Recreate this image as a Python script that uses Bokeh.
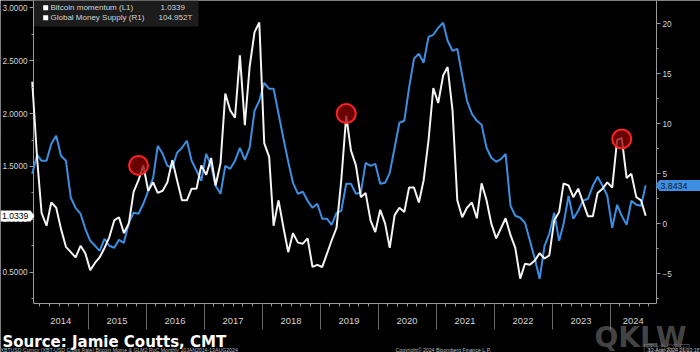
import datetime
from bokeh.plotting import figure
from bokeh.models import (Range1d, LinearAxis, FixedTicker, NumeralTickFormatter,
                          CustomJSTickFormatter, Label, PolyAnnotation, BoxAnnotation)
from bokeh.embed import file_html
from bokeh.resources import INLINE

# ---------------- data (monthly, Jan 2014 .. Aug 2024) ----------------
first_year, first_month = 2014, 1
obs_day = 15
last_obs = (2024, 8, 13)

btc_momentum = [
    2.30, 1.57, 1.06, 0.94, 1.16, 1.11, 0.91, 0.74, 0.69, 0.64, 0.75, 0.68,
    0.52, 0.59, 0.64, 0.73, 0.83, 0.99, 1.02, 0.87, 0.96, 1.26, 1.37, 1.51,
    1.27, 1.35, 1.25, 1.27, 1.35, 1.56, 1.37, 1.18, 1.18, 1.29, 1.29, 1.51,
    1.42, 1.58, 1.32, 1.53, 2.19, 2.03, 1.96, 2.55, 1.89, 2.44, 2.77, 2.86,
    1.72, 1.59, 0.94, 1.18, 0.93, 0.69, 0.87, 0.78, 0.77, 0.82, 0.55, 0.57,
    0.55, 0.68, 0.80, 0.92, 1.37, 1.98, 1.65, 1.51, 1.21, 1.25, 0.99, 0.88,
    1.09, 0.96, 0.73, 1.04, 1.11, 1.07, 1.30, 1.30, 1.16, 1.37, 1.75, 2.24,
    2.10, 2.36, 2.44, 2.03, 1.18, 1.02, 1.11, 1.16, 1.01, 1.34, 1.18, 0.96,
    0.82, 0.92, 1.01, 0.85, 0.73, 0.44, 0.58, 0.57, 0.61, 0.68, 0.63, 0.66,
    0.99, 1.07, 1.34, 1.32, 1.21, 1.29, 1.16, 1.03, 1.03, 1.25, 1.29, 1.35,
    1.30, 1.75, 1.77, 1.39, 1.43, 1.21, 1.18, 1.0339,
]

money_supply = [
    5.0, 6.9, 6.3, 6.3, 8.0, 8.8, 6.8, 6.3, 2.6, 1.6, 1.0, -0.5,
    -1.7, -2.2, -2.7, -1.5, -2.2, -2.4, -1.6, -1.9, 0.1, 1.1, 1.0, 2.0,
    3.3, 4.6, 7.8, 7.0, 5.8, 5.6, 7.1, 7.6, 8.3, 6.3, 5.3, 4.3,
    7.0, 5.8, 3.8, 3.0, 5.8, 5.5, 6.3, 7.6, 6.4, 7.6, 11.3, 12.3,
    14.1, 13.5, 13.5, 11.0, 8.6, 6.2, 4.1, 3.0, 3.2, 2.3, 1.6, 2.0,
    0.5, 0.5, -0.1, 1.1, 1.3, 4.0, 4.0, 3.0, 3.1, 6.1, 5.8, 6.0,
    4.0, 4.1, 5.1, 7.6, 10.1, 10.3, 13.6, 16.5, 17.0, 16.1, 18.7, 18.9,
    19.6, 20.1, 18.3, 17.3, 17.5, 14.8, 12.3, 11.0, 10.3, 9.9, 7.6, 6.6,
    6.2, 6.5, 7.0, 1.8, 0.8, 0.6, 0.1, -1.7, -3.5, -5.5, -2.2, -1.0,
    1.1, -1.7, 0.0, 2.8, 0.5, 1.3, 2.3, 2.5, 3.8, 4.7, 3.8, 2.8,
    -0.4, 1.9, 0.8, -0.1, 2.3, 1.9, 1.8, 3.8434,
]

highlight_months = ["2015-11", "2019-06", "2024-03"]
highlight_values = [1.51, 2.00, 1.76]

year_labels = ["2014", "2015", "2016", "2017", "2018", "2019",
               "2020", "2021", "2022", "2023", "2024"]

legend_rows = [("Bitcoin momentum (L1)", "1.0339"),
               ("Global Money Supply  (R1)", "104.952T")]
last_left_label = "1.0339"
last_right_label = "3.8434"

source_text = "Source: Jamie Coutts, CMT"
footer_left = "XBTUSD Curncy (XBT-USD Cross Rate) Bitcoin Mome & GLM2 RoC  Monthly 10JAN2014-13AUG2024"
footer_mid = "Copyright\u00a9 2024 Bloomberg Finance L.P."
footer_right = "13-Aug-2024 21:13:18"


# ---------------- helpers ----------------
def frac_year(d):
    start = datetime.date(d.year, 1, 1)
    n = (datetime.date(d.year + 1, 1, 1) - start).days
    return d.year + (d - start).days / n


dates = []
for k in range(len(btc_momentum)):
    idx = first_month - 1 + k
    dates.append(datetime.date(first_year + idx // 12, idx % 12 + 1, obs_day))
dates[-1] = datetime.date(*last_obs)
t = [frac_year(d) for d in dates]

hx = [frac_year(datetime.date(int(s[:4]), int(s[5:]), obs_day)) for s in highlight_months]


# pixel -> data layout helpers (plot area: x 33..656, y 0..303 of a 700x352 canvas)
def tx(px):
    return 2015 + (px - 87.5) / 58.0


def vy(py):
    return 1.0 + (218.85 - py) / 105.8


def ry(py):
    return (223.3 - py) / 10.0


AX0, AX1 = tx(33), tx(656)   # x of left / right axis lines
BOT = vy(303)                # y of bottom axis line

AX = "#9a9a9a"
TXT = "#d4d4d4"
FONT = "Liberation Sans"

p = figure(width=700, height=352, output_backend="svg", toolbar_location=None,
           x_range=Range1d(tx(0), tx(700)), y_range=Range1d(vy(352), vy(0)),
           min_border_left=0, min_border_right=0, min_border_top=0, min_border_bottom=0,
           background_fill_color="black", border_fill_color="black",
           outline_line_color=None)
p.grid.visible = False
p.extra_y_ranges = {"gms": Range1d(ry(352), ry(0))}

# ---- axes (fixed at the plot-area edges) ----
ly = p.yaxis[0]
ly.fixed_location = AX0
ly.ticker = FixedTicker(ticks=[0.5, 1.0, 1.5, 2.0, 2.5, 3.0],
                        minor_ticks=[0.25, 0.75, 1.25, 1.75, 2.25, 2.75])
ly.formatter = NumeralTickFormatter(format="0.0000")

ry_axis = LinearAxis(y_range_name="gms", fixed_location=AX1,
                     ticker=FixedTicker(ticks=[-5, 0, 5, 10, 15, 20],
                                        minor_ticks=[-7.5, -2.5, 2.5, 7.5, 12.5, 17.5]))
p.add_layout(ry_axis, "right")

for ax in [ly, ry_axis]:
    ax.axis_line_color = None
    ax.major_tick_line_color = AX
    ax.minor_tick_line_color = AX
    ax.major_tick_out = 4
    ax.major_tick_in = 0
    ax.minor_tick_out = 2
    ax.minor_tick_in = 0
    ax.major_label_text_color = TXT
    ax.major_label_text_font = FONT
    ax.major_label_text_font_size = "8.2px"
    ax.major_label_standoff = 2

small = []
for yr in range(2014, 2025):
    for mth in range(2, 12, 2):
        v = yr + mth / 12.0
        if AX0 <= v <= AX1:
            small.append(v)
seps = list(range(2015, 2025))

bx = p.xaxis[0]
bx.fixed_location = BOT
bx.ticker = FixedTicker(ticks=small, minor_ticks=seps)
bx.formatter = CustomJSTickFormatter(code="return '';")
bx.axis_line_color = None
bx.major_tick_line_color = AX
bx.minor_tick_line_color = "#6a6a6a"
bx.major_tick_out = 3
bx.major_tick_in = 0
bx.minor_tick_out = 26
bx.minor_tick_in = 0
bx.major_label_text_font_size = "1px"

# axis lines limited to the plot area
p.segment(x0=[AX0, AX1, AX0], y0=[vy(0), vy(0), BOT],
          x1=[AX0, AX1, AX1], y1=[BOT, BOT, BOT],
          line_color=AX, line_width=1)

# ---- series ----
p.line(t, money_supply, y_range_name="gms", line_color="#3d8ee0", line_width=2)
p.line(t, btc_momentum, line_color="#f4f4f4", line_width=2)
p.scatter(hx, highlight_values, marker="circle", size=19,
          fill_color="#8b0000", fill_alpha=0.75, line_color="#ff2222", line_width=2)

# ---- legend box ----
p.add_layout(BoxAnnotation(left=tx(33.5), right=tx(198), top=vy(0), bottom=vy(26),
                           fill_color="#1c1c1c", fill_alpha=1.0, line_color=None))
for i, (name, val) in enumerate(legend_rows):
    yy = 7.3 + 10 * i
    p.add_layout(BoxAnnotation(left=tx(42.7), right=tx(47.7), top=vy(yy - 2.5),
                               bottom=vy(yy + 2.5), fill_color="white", fill_alpha=1.0,
                               line_color=None))
    p.add_layout(Label(x=tx(50), y=vy(yy), text=name, text_baseline="middle",
                       text_font=FONT, text_font_size="8px", text_color=TXT))
p.add_layout(Label(x=tx(160), y=vy(7.3), text=legend_rows[0][1], text_baseline="middle",
                   text_font=FONT, text_font_size="8px", text_color=TXT))
p.add_layout(Label(x=tx(158), y=vy(17.3), text=legend_rows[1][1], text_baseline="middle",
                   text_font=FONT, text_font_size="8px", text_color=TXT))

# ---- last-value boxes on the axes ----
p.add_layout(PolyAnnotation(xs=[tx(0), tx(30), tx(34), tx(30), tx(0)],
                            ys=[vy(210), vy(210), vy(215.5), vy(221), vy(221)],
                            fill_color="white", fill_alpha=1.0, line_color=None))
p.add_layout(Label(x=tx(1.5), y=vy(215.7), text=last_left_label, text_baseline="middle",
                   text_font=FONT, text_font_size="8.6px", text_color="black"))
p.add_layout(PolyAnnotation(xs=[tx(655), tx(659), tx(700), tx(700), tx(659)],
                            ys=[vy(185), vy(179.5), vy(179.5), vy(190.5), vy(190.5)],
                            fill_color="#3d8ee0", fill_alpha=1.0, line_color=None))
p.add_layout(Label(x=tx(660), y=vy(185.2), text=last_right_label, text_baseline="middle",
                   text_font=FONT, text_font_size="8.8px", text_color="#0d1a2a"))

# ---- year labels centred in the visible part of each year ----
for lab in year_labels:
    a = max(int(lab), AX0)
    b = min(int(lab) + 1, AX1)
    p.add_layout(Label(x=(a + b) / 2, y=vy(320.5), text=lab, text_align="center",
                       text_baseline="middle", text_font=FONT, text_font_size="9.4px",
                       text_color=TXT))

# ---- watermark ----
p.add_layout(Label(x=tx(594), y=vy(337), text="QKLW", text_baseline="alphabetic",
                   text_font="DejaVu Sans", text_font_style="bold",
                   text_font_size="28px", text_color="#9a9a9a", text_alpha=0.45))
p.add_layout(Label(x=tx(642), y=vy(347.5), text="区块链网", text_baseline="alphabetic",
                   text_font="Noto Sans CJK SC", text_font_size="12px",
                   text_color="#9a9a9a", text_alpha=0.45))

# ---- source and footer ----
p.add_layout(Label(x=tx(2), y=vy(341.5), text=source_text, text_baseline="alphabetic",
                   text_font="DejaVu Sans", text_font_style="bold",
                   text_font_size="15px", text_color="white"))
p.add_layout(Label(x=tx(0), y=vy(349.5), text=footer_left, text_baseline="alphabetic",
                   text_font=FONT, text_font_size="5.2px", text_color="#bbbbbb"))
p.add_layout(Label(x=tx(395), y=vy(349.5), text=footer_mid, text_baseline="alphabetic",
                   text_font=FONT, text_font_size="5.2px", text_color="#bbbbbb"))
p.add_layout(Label(x=tx(699), y=vy(349.5), text=footer_right, text_baseline="alphabetic",
                   text_align="right", text_font=FONT, text_font_size="5.2px",
                   text_color="#bbbbbb"))

open("out.html", "w").write(file_html(p, INLINE))
